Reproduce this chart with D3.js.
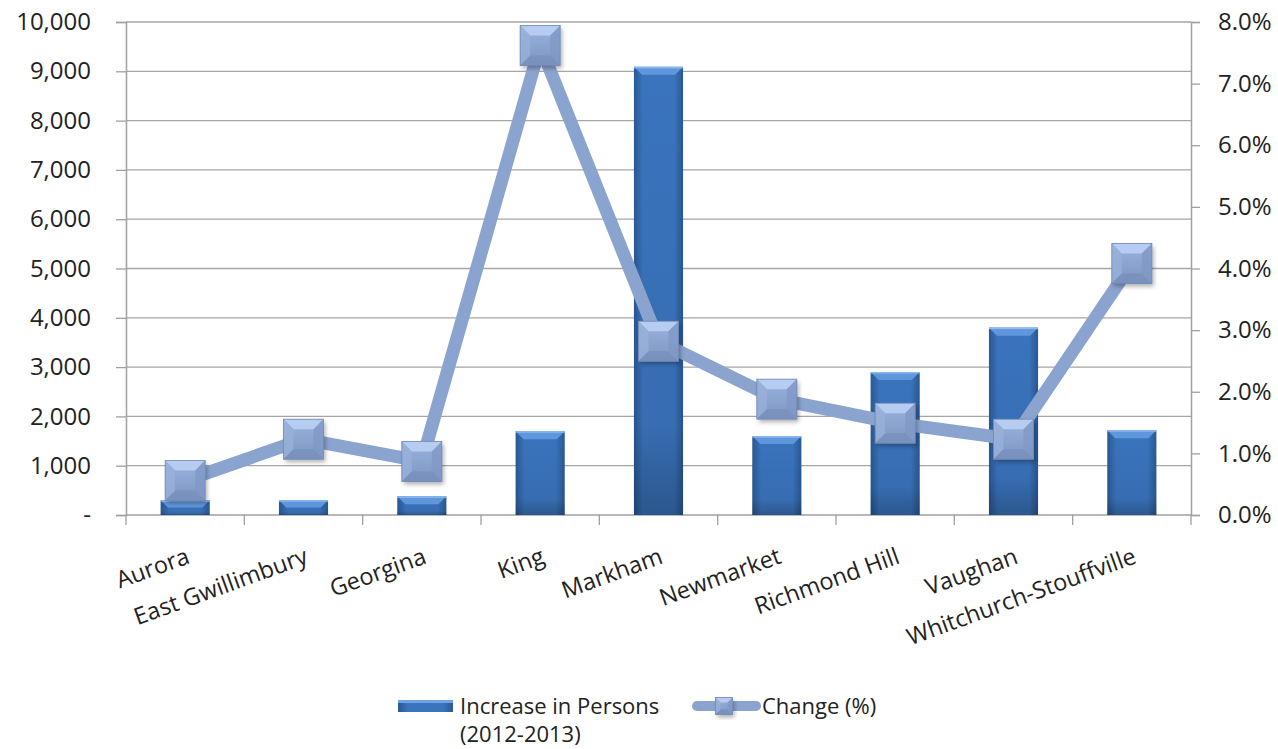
<!DOCTYPE html>
<html lang="en">
<head>
<meta charset="utf-8">
<title>York Region population increase</title>
<script src="https://d3js.org/d3.v7.min.js"></script>
<style>
  body { margin: 0; background: #fff; }
  svg text { font-family: "Open Sans", "Noto Sans", sans-serif; fill: #222; }
</style>
</head>
<body>
<div id="chart"></div>
<script>
// data
var towns = ["Aurora", "East Gwillimbury", "Georgina", "King", "Markham",
             "Newmarket", "Richmond Hill", "Vaughan", "Whitchurch-Stouffville"];
var persons = [300, 300, 380, 1700, 9090, 1600, 2900, 3800, 1720];
var changePct = [0.56, 1.23, 0.87, 7.62, 2.82, 1.88, 1.49, 1.23, 4.08];
var leftTicks = [0, 1000, 2000, 3000, 4000, 5000, 6000, 7000, 8000, 9000, 10000];
var rightTicks = [0, 1, 2, 3, 4, 5, 6, 7, 8];

var W = 1278, H = 749,
    mLeft = 126, mRight = 1191, mTop = 22, mBottom = 515,
    fsNum = "24px", fsCat = "23.5px", fsLeg = "22px";

var svg = d3.select("#chart").append("svg")
    .attr("width", W).attr("height", H);

var defs = svg.append("defs");

var barGrad = defs.append("linearGradient").attr("id", "barGrad")
    .attr("x1", 0).attr("x2", 1).attr("y1", 0).attr("y2", 0);
barGrad.append("stop").attr("offset", "0%").attr("stop-color", "#2a5893");
barGrad.append("stop").attr("offset", "18%").attr("stop-color", "#3a74bd");
barGrad.append("stop").attr("offset", "82%").attr("stop-color", "#3a74bd");
barGrad.append("stop").attr("offset", "100%").attr("stop-color", "#2a5893");

var barV = defs.append("linearGradient").attr("id", "barV")
    .attr("x1", 0).attr("x2", 0).attr("y1", 0).attr("y2", 1);
barV.append("stop").attr("offset", "0%").attr("stop-color", "#000").attr("stop-opacity", 0);
barV.append("stop").attr("offset", "80%").attr("stop-color", "#000").attr("stop-opacity", 0.06);
barV.append("stop").attr("offset", "100%").attr("stop-color", "#000").attr("stop-opacity", 0.25);

var mkGrad = defs.append("linearGradient").attr("id", "mkGrad")
    .attr("x1", 0).attr("x2", 0).attr("y1", 0).attr("y2", 1);
mkGrad.append("stop").attr("offset", "0%").attr("stop-color", "#9ab3de");
mkGrad.append("stop").attr("offset", "100%").attr("stop-color", "#7d95c2");

var shadow = defs.append("filter").attr("id", "shadow")
    .attr("x", "-30%").attr("y", "-30%").attr("width", "160%").attr("height", "160%");
shadow.append("feDropShadow").attr("dx", 2).attr("dy", 3)
    .attr("stdDeviation", 2).attr("flood-color", "#000").attr("flood-opacity", 0.3);

// scales
var x = d3.scaleBand().domain(towns).range([mLeft, mRight]).padding(0);
var y = d3.scaleLinear().domain([0, 10000]).range([mBottom, mTop]);
var y2 = d3.scaleLinear().domain([0, 8]).range([mBottom, mTop]);
var barW = x.bandwidth() * 0.415;
var cx = function(d) { return x(d) + x.bandwidth() / 2; };

// gridlines
svg.append("g").selectAll("line")
    .data(leftTicks.slice(1))
    .enter().append("line")
    .attr("x1", mLeft).attr("x2", mRight)
    .attr("y1", function(d) { return y(d); })
    .attr("y2", function(d) { return y(d); })
    .attr("stroke", "#a6a6a6").attr("stroke-width", 1.3);

// left axis
var fmtLeft = function(d) { return d === 0 ? "-" : d3.format(",")(d); };
var gl = svg.append("g").attr("transform", "translate(" + mLeft + ",0)")
    .call(d3.axisLeft(y).tickValues(leftTicks).tickFormat(fmtLeft).tickSize(10).tickPadding(25));
gl.select(".domain").attr("stroke", "#a0a0a0").attr("stroke-width", 1.5);
gl.selectAll(".tick line").attr("stroke", "#a0a0a0").attr("stroke-width", 1.3);
gl.selectAll(".tick text").style("font-size", fsNum).attr("fill", "#222")
    .style("font-family", "'Open Sans', sans-serif");

// right axis
var gr = svg.append("g").attr("transform", "translate(" + mRight + ",0)")
    .call(d3.axisRight(y2).tickValues(rightTicks)
        .tickFormat(function(d) { return d.toFixed(1) + "%"; })
        .tickSize(9).tickPadding(18));
gr.select(".domain").attr("stroke", "#a0a0a0").attr("stroke-width", 1.5);
gr.selectAll(".tick line").attr("stroke", "#a0a0a0").attr("stroke-width", 1.3);
gr.selectAll(".tick text").style("font-size", fsNum).attr("fill", "#222")
    .style("font-family", "'Open Sans', sans-serif");

// bottom axis line and category ticks at band edges
svg.append("line").attr("x1", mLeft).attr("x2", mRight)
    .attr("y1", mBottom).attr("y2", mBottom)
    .attr("stroke", "#a0a0a0").attr("stroke-width", 1.5);
var edges = towns.map(function(d) { return x(d); }).concat([mRight]);
svg.append("g").selectAll("line").data(edges).enter().append("line")
    .attr("x1", function(d) { return d; }).attr("x2", function(d) { return d; })
    .attr("y1", mBottom).attr("y2", mBottom + 10)
    .attr("stroke", "#a0a0a0").attr("stroke-width", 1.3);

// category labels, rotated
svg.append("g").selectAll("text").data(towns).enter().append("text")
    .attr("transform", function(d) { return "translate(" + (cx(d) + 3) + ",555) rotate(-20)"; })
    .attr("text-anchor", "end")
    .attr("dy", "0.35em")
    .style("font-size", fsCat)
    .text(function(d) { return d; });

// bars
var bars = svg.append("g").selectAll("g").data(towns).enter().append("g");
bars.append("rect")
    .attr("x", function(d) { return cx(d) - barW / 2; })
    .attr("y", function(d, i) { return y(persons[i]); })
    .attr("width", barW)
    .attr("height", function(d, i) { return mBottom - y(persons[i]); })
    .attr("fill", "url(#barGrad)");
bars.append("rect")
    .attr("x", function(d) { return cx(d) - barW / 2; })
    .attr("y", function(d, i) { return y(persons[i]); })
    .attr("width", barW)
    .attr("height", function(d, i) { return mBottom - y(persons[i]); })
    .attr("fill", "url(#barV)");
// top bevel
bars.append("path")
    .attr("d", function(d, i) {
        var x0 = cx(d) - barW / 2, x1 = cx(d) + barW / 2, t = y(persons[i]);
        var b = Math.min(8, (mBottom - t) / 2);
        return "M" + x0 + "," + t + "L" + x1 + "," + t + "L" + (x1 - b) + "," + (t + b) +
               "L" + (x0 + b) + "," + (t + b) + "Z";
    })
    .attr("fill", "#5f97dc");
bars.append("rect")
    .attr("x", function(d) { return cx(d) - barW / 2; })
    .attr("y", function(d, i) { return y(persons[i]); })
    .attr("width", barW)
    .attr("height", 1.5)
    .attr("fill", "#8fbaf0");

// change line
var line = d3.line()
    .x(function(d, i) { return cx(towns[i]); })
    .y(function(d) { return y2(d); });
svg.append("path").datum(changePct)
    .attr("d", line)
    .attr("fill", "none")
    .attr("stroke", "#8ba4cf")
    .attr("stroke-width", 13)
    .attr("stroke-linejoin", "round");

// markers
function drawMarker(g, mx, my, s, bev) {
    var h = s / 2;
    g.append("rect").attr("x", mx - h).attr("y", my - h)
        .attr("width", s).attr("height", s).attr("fill", "url(#mkGrad)")
        .attr("filter", "url(#shadow)");
    g.append("path").attr("d",
        "M" + (mx - h) + "," + (my - h) + "L" + (mx + h) + "," + (my - h) +
        "L" + (mx + h - bev) + "," + (my - h + bev) + "L" + (mx - h + bev) + "," + (my - h + bev) + "Z")
        .attr("fill", "#b6cdf1");
    g.append("path").attr("d",
        "M" + (mx - h) + "," + (my - h) + "L" + (mx - h + bev) + "," + (my - h + bev) +
        "L" + (mx - h + bev) + "," + (my + h - bev) + "L" + (mx - h) + "," + (my + h) + "Z")
        .attr("fill", "#98b0da").attr("opacity", 0.8);
    g.append("path").attr("d",
        "M" + (mx + h) + "," + (my - h) + "L" + (mx + h - bev) + "," + (my - h + bev) +
        "L" + (mx + h - bev) + "," + (my + h - bev) + "L" + (mx + h) + "," + (my + h) + "Z")
        .attr("fill", "#8199c6").attr("opacity", 0.8);
    g.append("path").attr("d",
        "M" + (mx - h) + "," + (my + h) + "L" + (mx - h + bev) + "," + (my + h - bev) +
        "L" + (mx + h - bev) + "," + (my + h - bev) + "L" + (mx + h) + "," + (my + h) + "Z")
        .attr("fill", "#7890bc").attr("opacity", 0.8);
    g.append("rect").attr("x", mx - h).attr("y", my - h)
        .attr("width", s).attr("height", s).attr("fill", "none")
        .attr("stroke", "#7189b4").attr("stroke-width", 0.8);
}
var mk = svg.append("g");
changePct.forEach(function(v, i) {
    drawMarker(mk, cx(towns[i]), y2(v), 40, 10);
});

// legend
var lg = svg.append("g");
lg.append("rect").attr("x", 398).attr("y", 700).attr("width", 55).attr("height", 12)
    .attr("fill", "url(#barGrad)");
lg.append("rect").attr("x", 398).attr("y", 700).attr("width", 55).attr("height", 3)
    .attr("fill", "#6fa3e3");
lg.append("text").attr("x", 460).attr("y", 714).style("font-size", fsLeg)
    .text("Increase in Persons");
lg.append("text").attr("x", 460).attr("y", 742).style("font-size", fsLeg)
    .text("(2012-2013)");
lg.append("line").attr("x1", 697).attr("x2", 756).attr("y1", 706).attr("y2", 706)
    .attr("stroke", "#8ba4cf").attr("stroke-width", 10).attr("stroke-linecap", "round");
drawMarker(lg, 724, 706, 17, 5);
lg.append("text").attr("x", 762).attr("y", 714).style("font-size", fsLeg)
    .text("Change (%)");
</script>
</body>
</html>
